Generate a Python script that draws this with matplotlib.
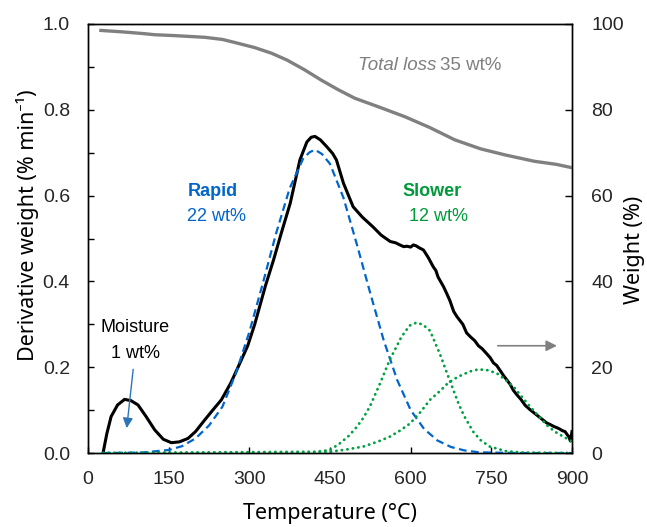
import matplotlib
matplotlib.use("Agg")
import matplotlib.pyplot as plt

# ---------------- data ----------------
deriv_T = [28, 35, 43, 55, 68, 80, 93, 108, 124, 140, 155, 170, 186, 200, 217, 232,
           248, 265, 279, 297, 310, 330, 345, 360, 376, 394, 407, 415, 422, 432, 444,
           455, 462, 475, 493, 510, 530, 545, 562, 572, 580, 587, 593, 600, 605, 610,
           615, 624, 633, 642, 647, 651, 661, 667, 673, 680, 686, 697, 704, 711, 719,
           726, 733, 741, 748, 754, 760, 766, 773, 779, 785, 791, 798, 805, 813, 822,
           830, 838, 846, 853, 860, 866, 872, 877, 882, 887, 891, 894, 897, 900]
deriv_D = [0.0, 0.045, 0.085, 0.112, 0.125, 0.122, 0.112, 0.085, 0.054, 0.032, 0.024,
           0.026, 0.034, 0.05, 0.077, 0.1, 0.124, 0.162, 0.2, 0.25, 0.3, 0.39, 0.45,
           0.515, 0.582, 0.683, 0.725, 0.736, 0.738, 0.73, 0.714, 0.698, 0.683, 0.629,
           0.574, 0.55, 0.527, 0.508, 0.493, 0.49, 0.485, 0.481, 0.482, 0.48, 0.485,
           0.483, 0.479, 0.473, 0.455, 0.434, 0.425, 0.41, 0.388, 0.372, 0.355, 0.33,
           0.318, 0.3, 0.28, 0.271, 0.262, 0.25, 0.243, 0.232, 0.222, 0.21, 0.204,
           0.193, 0.18, 0.17, 0.16, 0.146, 0.135, 0.125, 0.111, 0.101, 0.093, 0.085,
           0.077, 0.07, 0.066, 0.062, 0.059, 0.056, 0.052, 0.05, 0.043, 0.038, 0.028,
           0.05]

rapid_T = [28, 100, 150, 175, 200, 225, 250, 275, 300, 325, 350, 375, 400, 412, 422,
           435, 450, 475, 500, 525, 550, 575, 600, 625, 650, 675, 700, 725, 750, 800, 900]
rapid_D = [0.0, 0.001, 0.007, 0.016, 0.034, 0.064, 0.108, 0.186, 0.282, 0.395, 0.513,
           0.617, 0.686, 0.701, 0.707, 0.697, 0.674, 0.595, 0.486, 0.372, 0.262, 0.17,
           0.1, 0.056, 0.029, 0.014, 0.006, 0.002, 0.001, 0.0, 0.0]

slow1_T = [28, 425, 450, 469, 485, 500, 512, 524, 543, 561, 583, 598, 611, 623, 636,
           654, 670, 690, 700, 716, 730, 747, 778, 810, 900]
slow1_D = [0.0, 0.003, 0.007, 0.023, 0.04, 0.061, 0.082, 0.108, 0.162, 0.217, 0.271,
           0.297, 0.304, 0.299, 0.285, 0.232, 0.178, 0.112, 0.085, 0.05, 0.03, 0.015,
           0.004, 0.001, 0.0]

slow2_T = [28, 400, 450, 480, 512, 540, 561, 580, 599, 618, 636, 655, 667, 680, 692,
           710, 726, 743, 760, 775, 791, 806, 822, 838, 853, 868, 884, 900]
slow2_D = [0.0, 0.0, 0.003, 0.008, 0.015, 0.027, 0.038, 0.052, 0.069, 0.095, 0.124,
           0.145, 0.16, 0.172, 0.18, 0.19, 0.195, 0.193, 0.186, 0.172, 0.155, 0.132,
           0.108, 0.086, 0.065, 0.05, 0.038, 0.027]

weight_T = [24, 60, 100, 124, 160, 217, 250, 279, 310, 341, 370, 403, 434, 465, 496,
            540, 589, 635, 682, 730, 775, 830, 870, 900]
weight_W = [98.5, 98.2, 97.8, 97.5, 97.3, 96.9, 96.4, 95.5, 94.5, 93.2, 91.6, 89.3,
            86.9, 84.7, 82.7, 80.7, 78.4, 75.9, 73.0, 70.9, 69.5, 68.0, 67.3, 66.5]

x_ticks = [0, 150, 300, 450, 600, 750, 900]
left_ticks = [0.0, 0.2, 0.4, 0.6, 0.8, 1.0]
right_ticks = [0, 20, 40, 60, 80, 100]

# ---------------- style ----------------
tick_font = ['Liberation Sans', 'DejaVu Sans']
label_font = ['Noto Sans', 'DejaVu Sans']
ann_font = ['Liberation Sans', 'DejaVu Sans']

BLACK = '#000000'
BLUE = '#0066CC'
GREEN = '#00A040'
GREEN_T = '#009A3A'
GRAY = '#808080'

fig = plt.figure(figsize=(6.47, 5.27), dpi=100)
ax = fig.add_axes([88/647, 1-453/527, (572-88)/647, (453-24)/527])
ax2 = ax.twinx()

ax.plot(deriv_T, deriv_D, color=BLACK, lw=2.2, zorder=3, solid_joinstyle='round')
ax.plot(rapid_T, rapid_D, color=BLUE, lw=1.6, ls=(0, (3.5, 2.0)), zorder=4)
ax.plot(slow1_T, slow1_D, color=GREEN, lw=2.0, ls=(0, (0.1, 1.9)),
        dash_capstyle='round', zorder=5)
ax.plot(slow2_T, slow2_D, color=GREEN, lw=2.0, ls=(0, (0.1, 1.9)),
        dash_capstyle='round', zorder=5)
ax2.plot(weight_T, weight_W, color=GRAY, lw=2.4)

ax.set_xlim(0, 900)
ax.set_ylim(0, 1.0)
ax2.set_ylim(0, 100)
ax.set_xticks(x_ticks)
ax.set_yticks(left_ticks)
ax.set_yticks([0.1, 0.3, 0.5, 0.7, 0.9], minor=True)
ax2.set_yticks(right_ticks)
ax.set_xticklabels([str(v) for v in x_ticks])
ax.set_yticklabels([f"{v:.1f}" for v in left_ticks])
ax2.set_yticklabels([str(v) for v in right_ticks])

for a in (ax, ax2):
    for s in a.spines.values():
        s.set_linewidth(1.0)
        s.set_color('#000000')
ax.tick_params(axis='both', which='both', direction='in', length=4, width=1.0,
               labelsize=14, colors='#000000')
ax.tick_params(axis='y', which='both', right=False, pad=13)
ax.tick_params(axis='x', top=False, pad=13)
ax2.tick_params(axis='y', direction='in', length=5, width=1.0, labelsize=14, pad=14)
for lab in ax.get_xticklabels() + ax.get_yticklabels() + ax2.get_yticklabels():
    lab.set_family(tick_font)
    lab.set_color('#262626')

ax.set_xlabel('Temperature (°C)', fontsize=15.5, family=label_font)
ax.set_ylabel('Derivative weight (% min⁻¹)', fontsize=15.5, family=label_font)
ax2.set_ylabel('Weight (%)', fontsize=15.5, family=label_font)
ax.xaxis.set_label_coords(0.5, -0.14)
ax.xaxis.label.set_va('center')
ax.yaxis.set_label_coords(-0.126, 0.531)
ax.yaxis.label.set_va('center')
ax2.yaxis.set_label_coords(1.13, 0.473)
ax2.yaxis.label.set_va('center')

# annotations
ax.text(185, 0.61, 'Rapid', color=BLUE, fontsize=13, fontweight='bold',
        family=ann_font, ha='left', va='center')
ax.text(185, 0.552, '22 wt%', color=BLUE, fontsize=13, family=ann_font,
        ha='left', va='center')
ax.text(640, 0.61, 'Slower', color=GREEN_T, fontsize=13, fontweight='bold',
        family=ann_font, ha='center', va='center')
ax.text(651, 0.552, '12 wt%', color=GREEN_T, fontsize=13, family=ann_font,
        ha='center', va='center')
ax.text(88, 0.292, 'Moisture', color='#000000', fontsize=13, family=ann_font,
        ha='center', va='center')
ax.text(88, 0.233, '1 wt%', color='#000000', fontsize=13, family=ann_font,
        ha='center', va='center')
ax.annotate('', xy=(72, 0.058), xytext=(84, 0.195),
            arrowprops=dict(arrowstyle='-|>', color='#2E75B6', lw=1.0,
                            mutation_scale=15, shrinkA=0, shrinkB=0))
ax2.annotate('', xy=(872, 25), xytext=(762, 25),
             arrowprops=dict(arrowstyle='-|>', color=GRAY, lw=1.2,
                             mutation_scale=16, shrinkA=0, shrinkB=0))
ax2.text(502, 90.4, 'Total loss', color=GRAY, fontsize=13.5, style='italic',
         family=ann_font, ha='left', va='center')
ax2.text(654, 90.4, '35 wt%', color=GRAY, fontsize=13.5,
         family=ann_font, ha='left', va='center')

fig.savefig('out.png', dpi=100)
